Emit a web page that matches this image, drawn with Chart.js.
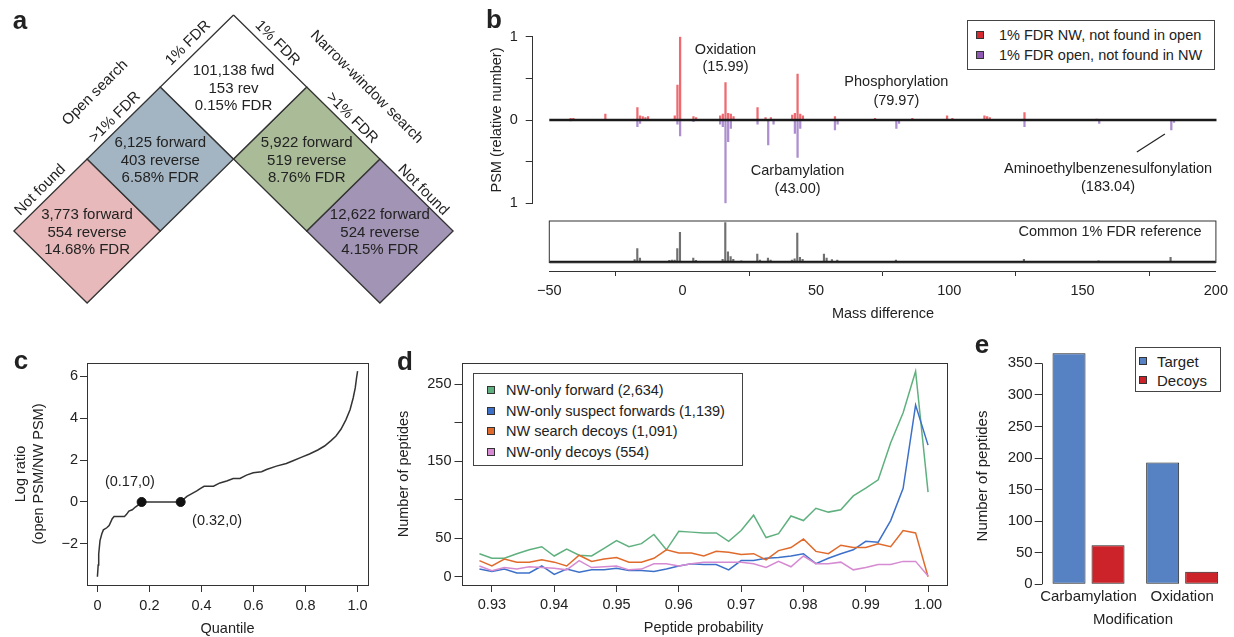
<!DOCTYPE html>
<html>
<head>
<meta charset="utf-8">
<script src="https://cdn.jsdelivr.net/npm/chart.js@4.4.1/dist/chart.umd.min.js"></script>
<style>
  html, body { margin: 0; padding: 0; background: #fff; }
  #fig { position: relative; width: 1234px; height: 637px; overflow: hidden;
         font-family: 'Liberation Sans', Arial, Helvetica, sans-serif; color: #222; }
  #fig canvas { position: absolute; }
  .t { position: absolute; white-space: nowrap; line-height: 1; font-size: 14.5px;
       transform: translate(-50%, -50%); }
  .t.v { transform: translate(-50%, -50%) rotate(-90deg); }
  .t.tag { font-weight: bold; font-size: 26px; }
  .lg { position: absolute; border: 1px solid #444; background: #fff; box-sizing: border-box; }
  .lg span { position: absolute; white-space: nowrap; line-height: 1; transform: translateY(-50%); }
  .lg i { position: absolute; width: 6px; height: 6px; border: 1px solid #333; }
</style>
</head>
<body>
<div id="fig"></div>
<script>
const FONT = "'Liberation Sans', Arial, Helvetica, sans-serif";
const INK = '#222';
const AX = '#333';

// ---- a: overlap of the open and narrow-window searches ----
const cellOpen   = [0, 1, 2, 0, 0];   // 0 = 1% FDR, 1 = >1% FDR, 2 = not found
const cellNarrow = [0, 0, 0, 1, 2];
const cellLines  = [
  ['101,138 fwd', '153 rev', '0.15% FDR'],
  ['6,125 forward', '403 reverse', '6.58% FDR'],
  ['3,773 forward', '554 reverse', '14.68% FDR'],
  ['5,922 forward', '519 reverse', '8.76% FDR'],
  ['12,622 forward', '524 reverse', '4.15% FDR']
];

// ---- b: mass-difference spectrum ----
const nwMass = [-42, -41, -29, -17, -16, -15, -14, -13, -3, -2, -1, 4, 5, 14, 15, 16, 17, 18, 19,
  28, 31, 33, 41, 42, 43, 44, 45, 57, 72, 86, 99, 101, 113, 114, 115, 128, 155];
const nwPsm = [0.02, 0.02, 0.07, 0.15, 0.05, 0.04, 0.03, 0.04, 0.05, 0.42, 1.0, 0.04, 0.03, 0.05, 0.07, 0.45, 0.08, 0.07, 0.04,
  0.15, 0.03, 0.03, 0.06, 0.08, 0.55, 0.07, 0.05, 0.04, 0.02, 0.02, 0.05, 0.02, 0.05, 0.04, 0.03, 0.09, 0.01];
const openMass = [-42, -17, -16, -2, -1, 4, 14, 15, 16, 17, 18, 28, 32, 34, 42, 43, 44, 57, 58, 80, 81, 128, 156, 183, 184];
const openPsm = [0.01, 0.08, 0.04, 0.05, 0.19, 0.02, 0.05, 0.08, 1.0, 0.26, 0.1, 0.05, 0.3, 0.05, 0.16, 0.45, 0.1, 0.12, 0.05,
  0.1, 0.04, 0.08, 0.04, 0.12, 0.03];
const refMass = [-18, -17, -16, -5, -4, -3, -2, -1, 4, 5, 15, 16, 17, 18, 19, 22, 28, 29, 32, 33, 41, 42, 43, 44, 45,
  53, 54, 56, 58, 80, 128, 156, 183];
const refPsm = [0.06, 0.34, 0.1, 0.04, 0.05, 0.05, 0.34, 0.75, 0.1, 0.04, 0.07, 1.0, 0.26, 0.14, 0.07, 0.03, 0.2, 0.05, 0.1,
  0.05, 0.05, 0.08, 0.73, 0.12, 0.07, 0.2, 0.1, 0.06, 0.05, 0.05, 0.07, 0.03, 0.12];
const massTicks = [-50, 0, 50, 100, 150, 200];
const massLabels = ['\u221250', '0', '50', '100', '150', '200'];
const psmTicks = [-1, -0.5, 0, 0.5, 1];
const psmLabels = ['1', '', '0', '', '1'];
const bNames = ['1% FDR NW, not found in open', '1% FDR open, not found in NW'];

// ---- c: quantiles of the log ratio ----
const quantile = [0, 0.003, 0.005, 0.01, 0.017, 0.023, 0.036, 0.045, 0.057, 0.064, 0.104, 0.112, 0.121, 0.134, 0.146,
  0.155, 0.163, 0.17, 0.32, 0.329, 0.344, 0.363, 0.382, 0.395, 0.41, 0.446, 0.471, 0.497, 0.522, 0.548, 0.573, 0.599,
  0.631, 0.65, 0.688, 0.726, 0.752, 0.783, 0.815, 0.847, 0.873, 0.898, 0.917, 0.936, 0.955, 0.971, 0.983, 0.991, 0.996, 1.0];
const logRatio = [-3.57, -3.0, -2.48, -1.84, -1.52, -1.33, -1.23, -1.12, -0.8, -0.69, -0.69, -0.59, -0.43, -0.37, -0.24,
  -0.16, -0.08, 0, 0, 0.11, 0.27, 0.4, 0.53, 0.64, 0.75, 0.75, 0.91, 1.0, 1.12, 1.12, 1.28, 1.39,
  1.44, 1.55, 1.71, 1.84, 1.97, 2.13, 2.29, 2.48, 2.67, 2.93, 3.15, 3.47, 3.92, 4.4, 4.96, 5.44, 5.92, 6.24];
const markQuantile = [0.17, 0.32];
const markRatio = [0, 0];
const quantileTicks = [0, 0.2, 0.4, 0.6, 0.8, 1.0];
const quantileLabels = ['0', '0.2', '0.4', '0.6', '0.8', '1.0'];
const ratioTicks = [-2, 0, 2, 4, 6];
const ratioLabels = ['\u22122', '0', '2', '4', '6'];

// ---- d: peptides by probability ----
const probBins = [0.928, 0.930, 0.932, 0.934, 0.936, 0.938, 0.940, 0.942, 0.944, 0.946, 0.948, 0.950, 0.952,
  0.954, 0.956, 0.958, 0.960, 0.962, 0.964, 0.966, 0.968, 0.970, 0.972, 0.974, 0.976, 0.978, 0.980, 0.982,
  0.984, 0.986, 0.988, 0.990, 0.992, 0.994, 0.996, 0.998, 1.000];
const nwForward = [30, 24, 24, 30, 35, 39, 27, 36, 28, 27, 37, 47, 39, 43, 55, 35, 59, 58, 57, 57, 46, 60, 80, 51,
  56, 79, 73, 89, 84, 87, 105, 115, 126, 174, 213, 267, 110];
const suspectForward = [10, 7, 10, 5, 5, 14, 3, 10, 6, 9, 9, 11, 8, 8, 7, 10, 14, 17, 16, 16, 9, 21, 21, 24,
  25, 27, 30, 17, 24, 30, 35, 46, 45, 73, 115, 223, 171];
const searchDecoys = [21, 14, 23, 19, 19, 22, 19, 14, 28, 20, 23, 25, 19, 19, 24, 35, 31, 31, 27, 33, 32, 29, 30, 22,
  34, 38, 49, 33, 30, 41, 38, 38, 43, 39, 60, 57, 0];
const nwDecoys = [14, 8, 12, 10, 13, 12, 11, 9, 21, 12, 13, 14, 9, 10, 17, 17, 14, 17, 19, 19, 19, 19, 17, 12,
  20, 13, 27, 17, 17, 19, 9, 12, 16, 16, 20, 20, 1];
const dNames = ['NW-only forward (2,634)', 'NW-only suspect forwards (1,139)', 'NW search decoys (1,091)', 'NW-only decoys (554)'];
const probTicks = [0.93, 0.94, 0.95, 0.96, 0.97, 0.98, 0.99, 1.00];
const probLabels = ['0.93', '0.94', '0.95', '0.96', '0.97', '0.98', '0.99', '1.00'];
const countTicks = [0, 50, 100, 150, 200, 250];
const countLabels = ['0', '50', '', '150', '', '250'];

// ---- e: peptides per modification ----
const modifications = ['Carbamylation', 'Oxidation'];
const targetCounts = [366, 193];
const decoyCounts = [62, 20];
const eNames = ['Target', 'Decoys'];
const peptideTicks = [0, 50, 100, 150, 200, 250, 300, 350];
const peptideLabels = peptideTicks.map(String);

// ---- styles ----
const cellColors = ['#ffffff', '#a3b5c3', '#e7b9ba', '#a9bb97', '#a194b4'];
const bColors = ['#d42a30', '#9059b3'];
const dColors = ['#5fb07f', '#3d71c9', '#e06a2b', '#d68ad2'];
const eColors = ['#5682c3', '#cc2229'];

Chart.defaults.font.family = FONT;
Chart.defaults.font.size = 14.5;
Chart.defaults.color = INK;
Chart.defaults.animation = false;
Chart.defaults.responsive = false;
Chart.defaults.events = [];
Chart.defaults.plugins.legend.display = false;
Chart.defaults.plugins.tooltip.enabled = false;

const fig = document.getElementById('fig');

function canvasAt(left, top, w, h) {
  const c = document.createElement('canvas');
  c.width = w; c.height = h;
  Object.assign(c.style, { left: left + 'px', top: top + 'px', width: w + 'px', height: h + 'px' });
  fig.appendChild(c);
  return c;
}

function text(str, x, y, cls, style) {
  const d = document.createElement('div');
  d.className = 't ' + (cls || '');
  d.textContent = str;
  Object.assign(d.style, { left: x + 'px', top: y + 'px' }, style || {});
  fig.appendChild(d);
}

function legend(left, top, w, h, names, colors, rowTop, rowStep, sqLeft, textLeft, size) {
  const box = document.createElement('div');
  box.className = 'lg';
  Object.assign(box.style, { left: left + 'px', top: top + 'px', width: w + 'px', height: h + 'px', fontSize: size + 'px' });
  names.forEach((name, i) => {
    const cy = rowTop + i * rowStep;
    const sq = document.createElement('i');
    Object.assign(sq.style, { left: sqLeft + 'px', top: (cy - 4) + 'px', background: colors[i] });
    const tx = document.createElement('span');
    tx.textContent = name;
    Object.assign(tx.style, { left: textLeft + 'px', top: cy + 'px' });
    box.appendChild(sq);
    box.appendChild(tx);
  });
  fig.appendChild(box);
}

const fixedTicks = values => axis => { axis.ticks = values.map(v => ({ value: v })); };

function yAxis(min, max, ticks, labels, width, pad, extra) {
  return Object.assign({
    type: 'linear', min, max,
    afterBuildTicks: fixedTicks(ticks),
    afterFit: a => { a.width = width; },
    border: { display: false },
    grid: { drawOnChartArea: false, drawTicks: true, tickLength: 7, color: AX },
    ticks: { autoSkip: false, padding: pad, callback: (v, i) => labels[i] }
  }, extra || {});
}

function xAxis(min, max, ticks, labels, height, pad, tickLen, extra) {
  return Object.assign({
    type: 'linear', min, max, offset: false,
    afterBuildTicks: fixedTicks(ticks),
    afterFit: a => { a.height = height; },
    border: { display: false },
    grid: { drawOnChartArea: false, drawTicks: true, tickLength: tickLen, color: AX },
    ticks: { autoSkip: false, maxRotation: 0, padding: pad, callback: (v, i) => labels[i] }
  }, extra || {});
}

// text and leader lines placed in data coordinates
function notes(items) {
  return {
    id: 'notes',
    afterDatasetsDraw(chart) {
      const { ctx, scales: { x, y } } = chart;
      items.forEach(n => {
        const px = x.getPixelForValue(n.x), py = y.getPixelForValue(n.y);
        ctx.save();
        if (n.to) {
          ctx.strokeStyle = INK; ctx.lineWidth = 1.2;
          ctx.beginPath(); ctx.moveTo(px, py);
          ctx.lineTo(x.getPixelForValue(n.to[0]), y.getPixelForValue(n.to[1]));
          ctx.stroke();
        } else {
          ctx.translate(px, py + (n.dy || 0));
          if (n.rot) ctx.rotate(n.rot * Math.PI / 180);
          ctx.font = (n.size || 14.5) + 'px ' + FONT;
          ctx.fillStyle = INK;
          ctx.textAlign = n.align || 'center';
          ctx.textBaseline = 'middle';
          ctx.fillText(n.text, 0, 0);
        }
        ctx.restore();
      });
    }
  };
}

const frame = {
  id: 'frame',
  afterDatasetsDraw(chart) {
    const { ctx, chartArea: a } = chart;
    ctx.save(); ctx.strokeStyle = AX; ctx.lineWidth = 1;
    ctx.strokeRect(Math.round(a.left) + 0.5, Math.round(a.top) + 0.5, Math.round(a.right - a.left), Math.round(a.bottom - a.top));
    ctx.restore();
  }
};

// R-style axis line from the first to the last tick
const rAxisY = {
  id: 'rAxisY',
  afterDraw(chart) {
    const { ctx, chartArea: a, scales: { y } } = chart;
    const t = y.ticks;
    const x0 = Math.round(a.left) + 0.5;
    ctx.save(); ctx.strokeStyle = AX; ctx.lineWidth = 1;
    ctx.beginPath();
    ctx.moveTo(x0, y.getPixelForValue(t[0].value));
    ctx.lineTo(x0, y.getPixelForValue(t[t.length - 1].value));
    ctx.stroke(); ctx.restore();
  }
};

const pad = (left, top, right, bottom) => ({ padding: { left, top, right, bottom }, autoPadding: false });

// ================= a =================
const edgeLabels = [
  ['1% FDR', -0.62, -0.61, -45], ['Open search', -1.89, 0.08, -45], ['>1% FDR', -1.62, 0.42, -45],
  ['Not found', -2.64, 1.43, -45], ['1% FDR', 0.6, -0.61, 45], ['Narrow-window search', 1.82, 0.0, 45],
  ['>1% FDR', 1.62, 0.43, 45], ['Not found', 2.59, 1.43, 45]
];
const aNotes = edgeLabels.map(([t, x, y, rot]) => ({ text: t, x, y, rot, size: 15 }));
cellLines.forEach((lines, i) => {
  lines.forEach((t, k) => aNotes.push({ text: t, x: cellNarrow[i] - cellOpen[i], y: cellNarrow[i] + cellOpen[i],
    dy: 1.5 + (k - 1) * 17.5, size: 15 }));
});
new Chart(canvasAt(0, 0, 470, 320), {
  type: 'line',
  data: {
    datasets: cellOpen.map((o, i) => {
      const cx = cellNarrow[i] - o, cy = cellNarrow[i] + o;
      return {
        data: [{ x: cx, y: cy - 1 }, { x: cx + 1, y: cy }, { x: cx, y: cy + 1 }, { x: cx - 1, y: cy }, { x: cx, y: cy - 1 }],
        borderColor: AX, borderWidth: 1.3, backgroundColor: cellColors[i], fill: 'shape', pointRadius: 0, tension: 0
      };
    })
  },
  options: {
    layout: pad(0, 0, 0, 0),
    scales: {
      x: { type: 'linear', display: false, min: -3.19, max: 3.231 },
      y: { type: 'linear', display: false, reverse: true, min: -1.2083, max: 3.236 }
    }
  },
  plugins: [notes(aNotes)]
});

// ================= b (upper) =================
const bPx50 = 549.3, bPx200 = 1216.7;
const bUnit = (bPx200 - bPx50) / 250;
const bLeft = 532.7;
new Chart(canvasAt(490, 20, 744, 200), {
  type: 'bar',
  data: {
    datasets: [
      { type: 'line', data: [{ x: -50, y: 0 }, { x: 200, y: 0 }], borderColor: '#1a1a1a', borderWidth: 2.4, pointRadius: 0, order: 0 },
      { data: nwMass.map((m, i) => ({ x: m, y: nwPsm[i] })), backgroundColor: '#ee6a70', barThickness: 1.6, grouped: false, order: 1 },
      { data: openMass.map((m, i) => ({ x: m, y: -openPsm[i] })), backgroundColor: '#ad8fcf', barThickness: 1.6, grouped: false, order: 1 }
    ]
  },
  options: {
    layout: pad(0, 16.7, 1234 - bPx200, 16.7),
    scales: {
      x: { type: 'linear', display: false, offset: false, min: -50 - (bPx50 - bLeft) / bUnit, max: 200 },
      y: yAxis(-1, 1, psmTicks, psmLabels, bLeft - 490, 8, { border: { display: true, color: AX } })
    }
  },
  plugins: [notes([
    { text: 'Oxidation', x: 16, y: 0.844 }, { text: '(15.99)', x: 16, y: 0.633 },
    { text: 'Phosphorylation', x: 80, y: 0.453 }, { text: '(79.97)', x: 80, y: 0.232 },
    { text: 'Carbamylation', x: 43, y: -0.609 }, { text: '(43.00)', x: 43, y: -0.828 },
    { text: 'Aminoethylbenzenesulfonylation', x: 159.3, y: -0.589 }, { text: '(183.04)', x: 159.3, y: -0.804 },
    { x: 170.1, y: -0.384, to: [180.6, -0.168] }
  ])]
});

// ================= b (reference + mass axis) =================
const refMax = 1.05, refMin = -(271 - 262) / ((262 - 220.5) / refMax);
const refBox = {
  id: 'refBox',
  afterDatasetsDraw(chart) {
    const { ctx, scales: { x, y } } = chart;
    const l = x.getPixelForValue(-50), r = x.getPixelForValue(200);
    const t = y.getPixelForValue(refMax), b = y.getPixelForValue(0);
    ctx.save(); ctx.strokeStyle = AX; ctx.lineWidth = 1;
    ctx.strokeRect(l, t + 0.5, r - l, b - t);
    ctx.restore();
  }
};
new Chart(canvasAt(490, 205, 744, 115), {
  type: 'bar',
  data: {
    datasets: [
      { type: 'line', data: [{ x: -50, y: 0 }, { x: 200, y: 0 }], borderColor: '#1a1a1a', borderWidth: 2.4, pointRadius: 0, order: 0 },
      { data: refMass.map((m, i) => ({ x: m, y: refPsm[i] })), backgroundColor: '#707070', barThickness: 1.5, grouped: false, order: 1 }
    ]
  },
  options: {
    layout: pad(bPx50 - 490, 15.5, 1234 - bPx200, 0),
    scales: {
      x: xAxis(-50, 200, massTicks, massLabels, 320 - 271, 6, 5, { border: { display: true, color: AX } }),
      y: { type: 'linear', display: false, min: refMin, max: refMax }
    }
  },
  plugins: [refBox, notes([{ text: 'Common 1% FDR reference', x: 194.6, y: 0.767, align: 'right' }])]
});
text('PSM (relative number)', 496, 120, 'v');
text('Mass difference', (bPx50 + bPx200) / 2, 313);
legend(967, 20, 248, 50, bNames, bColors, 14, 20, 8, 31, 14.5);

// ================= c =================
new Chart(canvasAt(0, 340, 380, 297), {
  type: 'line',
  data: {
    datasets: [
      { data: markQuantile.map((q, i) => ({ x: q, y: markRatio[i] })), showLine: false, pointRadius: 4.5,
        pointBackgroundColor: '#111', pointBorderColor: '#111', order: 0 },
      { data: quantile.map((q, i) => ({ x: q, y: logRatio[i] })), borderColor: AX, borderWidth: 1.5, pointRadius: 0, tension: 0, order: 1 }
    ]
  },
  options: {
    layout: pad(0, 23, 12, 0),
    scales: {
      x: xAxis(-0.04, 1.04, quantileTicks, quantileLabels, 637 - 585, 5, 7),
      y: yAxis(-3.96, 6.63, ratioTicks, ratioLabels, 87, 2)
    }
  },
  plugins: [frame, notes([{ text: '(0.17,0)', x: 0.125, y: 0.95 }, { text: '(0.32,0)', x: 0.46, y: -0.91 }])]
});
text('Log ratio', 20, 474, 'v');
text('(open PSM/NW PSM)', 38, 474, 'v');
text('Quantile', 227.5, 628);

// ================= d =================
new Chart(canvasAt(380, 340, 590, 297), {
  type: 'line',
  data: {
    datasets: [nwForward, suspectForward, searchDecoys, nwDecoys].map((vals, i) => ({
      data: probBins.map((p, k) => ({ x: p, y: vals[k] })),
      borderColor: dColors[i], borderWidth: 1.5, pointRadius: 0, tension: 0, order: 3 - i
    }))
  },
  options: {
    layout: pad(0, 23, 970 - 946, 0),
    scales: {
      x: xAxis(0.92512, 1.00288, probTicks, probLabels, 637 - 585, 4, 7),
      y: yAxis(-10.68, 277.68, countTicks, countLabels, 461.5 - 380, 3)
    }
  },
  plugins: [frame]
});
text('Number of peptides', 403, 474, 'v');
text('Peptide probability', 703.5, 627);
legend(473, 373, 270, 93, dNames, dColors, 16, 20.7, 13, 32, 14.5);

// ================= e =================
new Chart(canvasAt(960, 330, 274, 307), {
  type: 'bar',
  data: {
    labels: modifications,
    datasets: [targetCounts, decoyCounts].map((vals, i) => ({
      data: vals, backgroundColor: eColors[i], borderColor: INK, borderWidth: 1, borderSkipped: false,
      categoryPercentage: 0.833, barPercentage: 0.846
    }))
  },
  options: {
    layout: pad(0, 14, 5, 0),
    scales: {
      x: { type: 'category', afterFit: a => { a.height = 637 - 584.3; }, border: { display: false },
           grid: { display: false, drawTicks: false },
           ticks: { padding: 4, autoSkip: false, maxRotation: 0, minRotation: 0, font: { size: 15 } } },
      y: yAxis(0, 380.6, peptideTicks, peptideLabels, 1041.7 - 960, 2, { ticks: { autoSkip: false, padding: 2,
           font: { size: 15 }, callback: (v, i) => peptideLabels[i] } })
    }
  },
  plugins: [rAxisY]
});
text('Number of peptides', 981, 476, 'v', { fontSize: '15px' });
text('Modification', 1133, 618, '', { fontSize: '15px' });
legend(1135, 347, 86, 45, eNames, eColors, 13, 19, 3, 21, 15);

// panel tags
text('a', 20, 19.5, 'tag');
text('b', 494, 19, 'tag');
text('c', 21, 360, 'tag');
text('d', 405, 361, 'tag');
text('e', 982, 344, 'tag');
</script>
</body>
</html>
